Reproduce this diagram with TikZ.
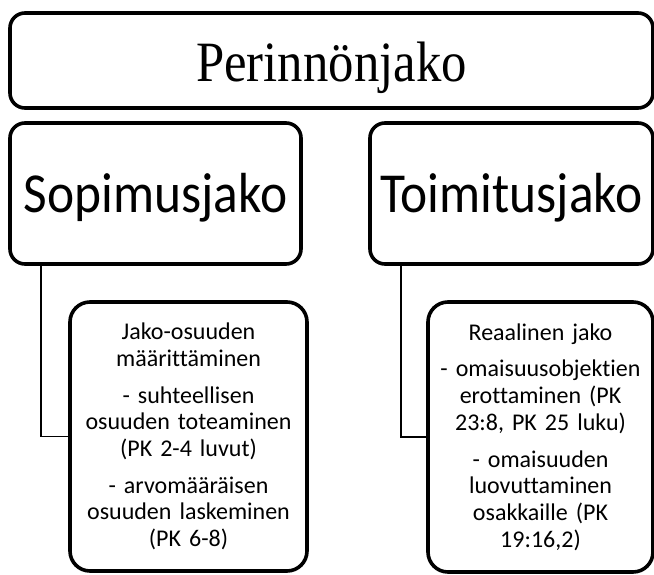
\documentclass[tikz,border=0pt]{standalone}
\usepackage{fontspec}
\newfontfamily\serifbig[FakeStretch=0.89]{Liberation Serif}
\newfontfamily\carlbig[FakeStretch=0.91,Ligatures=NoCommon]{Carlito}
\newfontfamily\carlsmall[Ligatures=NoCommon]{Carlito}
\begin{document}
\begin{tikzpicture}[x=1pt,y=-1pt,
  box/.style={draw=black, line width=3.6pt, rounded corners=15pt, inner sep=0pt, outer sep=0pt, fill=white},
  midtext/.style={font=\carlbig\fontsize{56.5}{60}\selectfont, text height=40pt, text depth=3pt},
  leaf/.style={box, rounded corners=20pt, align=center, font=\carlsmall\fontsize{24}{26.7}\selectfont},
  link/.style={draw=black, line width=1.5pt}]
\useasboundingbox (0,0) rectangle (654,574);
\fill[white] (0,0) rectangle (654,574);
\node[box, minimum width=643pt, minimum height=95pt,
      font=\serifbig\fontsize{57}{60}\selectfont, text height=45pt, text depth=4pt] (top) at (331.5,60.5) {Perinnönjako};
\node[box, midtext, minimum width=291pt, minimum height=141pt] (sop) at (155.5,193.5) {Sopimusjako};
\node[box, midtext, minimum width=283pt, minimum height=141pt] (toi) at (511.5,193.5) {Toimitusjako};
\node[leaf, minimum width=237pt, minimum height=269pt, text width=230pt] (lc) at (188.5,436.5)
  {Jako-osuuden\\ määrittäminen\\[10pt] - suhteellisen\\ osuuden toteaminen\\ (PK 2-4 luvut)\\[10pt] - arvomääräisen\\ osuuden laskeminen\\ (PK 6-8)};
\node[leaf, minimum width=225pt, minimum height=270pt, text width=220pt] (rc) at (540.5,437)
  {Reaalinen jako\\[10pt] - omaisuusobjektien\\ erottaminen (PK\\ 23:8, PK 25 luku)\\[10pt] - omaisuuden\\ luovuttaminen\\ osakkaille (PK\\ 19:16,2)};
\coordinate (sopdrop) at (41,264);
\coordinate (toidrop) at (401,264);
\draw[link] (sopdrop) |- (lc.west);
\draw[link] (toidrop) |- (rc.west);
\end{tikzpicture}
\end{document}
